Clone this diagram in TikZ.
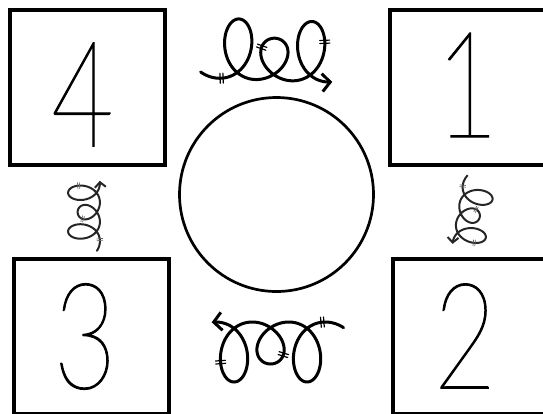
\documentclass[tikz,border=0pt]{standalone}
\usepackage{fontspec}
\usetikzlibrary{arrows.meta,decorations.markings}
\IfFontExistsTF{Lato Thin}{\newfontfamily\digitfont{Lato Thin}[FakeStretch=0.73,FakeBold=0.8]}{%
  \IfFontExistsTF{Lato Hairline}{\newfontfamily\digitfont{Lato Hairline}[FakeStretch=0.73,FakeBold=0.8]}{%
    \IfFontExistsTF{DejaVu Sans ExtraLight}{\newfontfamily\digitfont{DejaVu Sans ExtraLight}[FakeStretch=0.73]}{%
      \newfontfamily\digitfont{Liberation Sans}[FakeStretch=0.73]}}}
\begin{document}
\begin{tikzpicture}[x=1pt,y=-1pt,
  card/.style={draw,line width=4pt,minimum size=155pt,inner sep=0pt},
  globe/.style={draw,circle,line width=2.7pt,minimum size=194pt,inner sep=0pt},
  digit/.style={inner sep=0pt,font=\digitfont\fontsize{148}{148}\selectfont},
  hashmark/.style={line width=1.2pt,-},
  bigcurl/.style={line width=3pt,>={Straight Barb[length=8pt,width=18pt]}},
  smallcurl/.style={line width=2pt,black!85,>={Straight Barb[length=5pt,width=11pt]},
    hashmark/.append style={line width=0.7pt,scale=0.6,black!60}},
  curl/.pic={
    \draw[->,line cap=round,line join=round,
      postaction={decorate,decoration={markings,
        mark=at position 0.045 with {\draw[hashmark] (-1.5,-5)--(-1.5,5) (1.5,-5)--(1.5,5);},
        mark=at position 0.55 with {\draw[hashmark] (-1.5,-5)--(-1.5,5) (1.5,-5)--(1.5,5);},
        mark=at position 0.77 with {\draw[hashmark] (-1.5,-5)--(-1.5,5) (1.5,-5)--(1.5,5);}}}]
      plot[samples=240,domain=-0.7:19.0,variable=\t]
      ({-49.3+5.81*\t+22*sin(\t r)},{30-(51+9*cos(deg((\t-pi)/2)))*(1-cos(\t r))/2});
  }]
\useasboundingbox (0,0) rectangle (543,413);
\clip (0,0) rectangle (543,413);
\node[card] (box4) at (87.5,87.5) {};
\node[card] (box1) at (467.5,87.5) {};
\node[card] (box3) at (91,336.5) {};
\node[card] (box2) at (470.5,336.5) {};
\node[globe] (hub) at (276.5,194.5) {};
\node[digit] (n4) at (82.5,94.5) {4};
\node[digit] (n1) at (467,85) {1};
\node[digit] (n3) at (85,336.5) {3};
\node[digit] (n2) at (465,336) {2};
\pic[bigcurl,rotate=-2] (c41) at (269,50) {curl};
\pic[smallcurl,rotate=-100,scale=0.53] (c12) at (474,213) {curl};
\pic[bigcurl,rotate=180] (c23) at (276,352) {curl};
\pic[smallcurl,rotate=90,scale=0.53] (c34) at (84,215) {curl};
\end{tikzpicture}
\end{document}
